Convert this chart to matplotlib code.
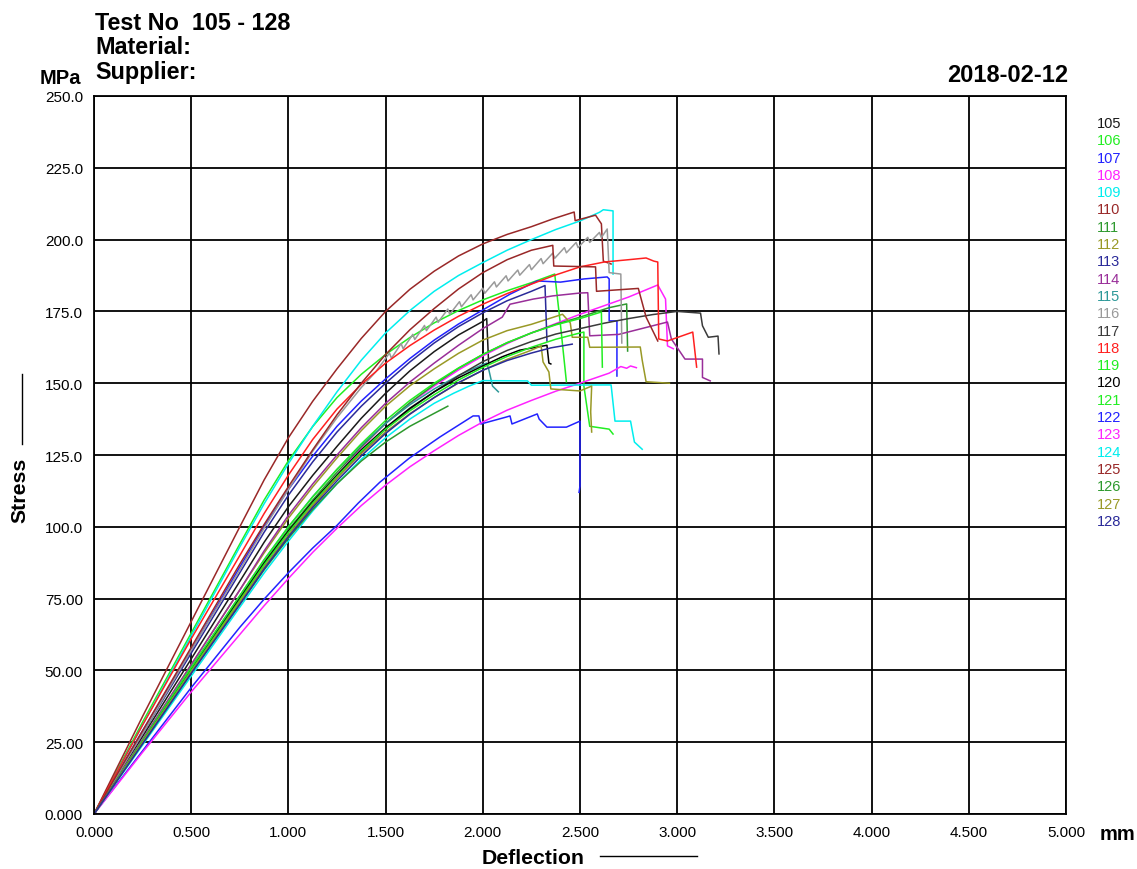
import matplotlib
matplotlib.use("Agg")
import matplotlib.pyplot as plt
from matplotlib.lines import Line2D

# ---------------- data ----------------
labels = ["105", "106", "107", "108", "109", "110", "111", "112", "113", "114", "115", "116",
          "117", "118", "119", "120", "121", "122", "123", "124", "125", "126", "127", "128"]
colors = ["#1a1a1a", "#22ee22", "#2222ff", "#ff22ff", "#00eeee", "#992828", "#2e992e", "#999926",
          "#2a2a99", "#992e99", "#2e9999", "#9a9a9a", "#3a3a3a", "#ff2020", "#22ee22", "#000000",
          "#22ee22", "#2222ff", "#ff22ff", "#00eeee", "#992828", "#2e992e", "#999926", "#2a2a99"]

x105 = [0, 0.25, 0.5, 0.75, 0.875, 1.0, 1.125, 1.25, 1.375, 1.5, 1.625, 1.75, 1.875, 2.0, 2.02, 2.03]
y105 = [0, 27, 54, 81, 94.6, 107, 117.9, 128, 137.8, 146.5, 154.3, 161, 166.8, 171.5, 172.5, 157]

x106 = [0, 0.25, 0.5, 0.75, 0.875, 1.0, 1.125, 1.25, 1.375, 1.5, 1.625, 1.75, 1.875, 2.0, 2.125,
        2.25, 2.37, 2.40, 2.43]
y106 = [0, 32, 63, 94, 109.3, 123, 134.9, 145, 153.1, 160, 165.9, 171, 175.3, 179, 182.2,
        185, 188, 170, 150.5]

x107 = [0, 0.25, 0.5, 0.75, 0.875, 1.0, 1.125, 1.25, 1.375, 1.5, 1.625, 1.75, 1.875, 2.0, 2.14,
        2.28, 2.40, 2.52, 2.64, 2.65, 2.65, 2.69, 2.69]
y107 = [0, 29, 57, 86, 100.1, 113, 124.6, 135, 143.8, 151.5, 158.6, 165, 170.6, 175.5, 181,
        185.6, 185.2, 186.3, 187, 186.3, 171.7, 171.7, 152.5]

x108 = [0, 0.25, 0.5, 0.75, 0.875, 1.0, 1.125, 1.25, 1.375, 1.5, 1.625, 1.75, 1.875, 2.0, 2.125,
        2.25, 2.5, 2.75, 2.90, 2.94, 2.95, 2.98]
y108 = [0, 25, 50, 75, 86.9, 98, 108.3, 118, 127.5, 136, 143, 149, 154.6, 159.5, 163.8,
        167.5, 174, 180, 184.2, 179.3, 163, 162]

x109 = [0, 0.25, 0.5, 0.75, 0.875, 1.0, 1.125, 1.25, 1.375, 1.5, 1.625, 1.75, 1.875, 2.0, 2.125,
        2.25, 2.375, 2.5, 2.6, 2.62, 2.67, 2.67]
y109 = [0, 31, 62, 93, 108, 122, 135, 147, 158, 167.5, 175.3, 182, 187.5, 192, 196.3,
        200, 203.5, 206.5, 209.5, 210.4, 210, 188]

x110 = [0, 0.25, 0.5, 0.75, 0.875, 1.0, 1.125, 1.25, 1.375, 1.5, 1.625, 1.75, 1.875, 2.0, 2.125,
        2.25, 2.36, 2.47, 2.475, 2.58, 2.61, 2.62, 2.66]
y110 = [0, 34, 67, 100, 116.3, 131, 143.7, 155, 165.6, 175, 182.7, 189, 194.3, 198.5, 201.8,
        204.5, 207.2, 209.6, 206.6, 208.5, 205.5, 192.5, 191.5]

x111 = [0, 0.25, 0.5, 0.75, 0.875, 1.0, 1.125, 1.25, 1.375, 1.5, 1.625, 1.75, 1.875, 2.0, 2.125,
        2.25, 2.375, 2.5, 2.65, 2.74, 2.745]
y111 = [0, 25.5, 50.5, 75.5, 87.7, 99, 109.3, 119, 127.9, 136, 143.2, 149.5, 155.2, 160, 164.1,
        167.5, 170.5, 173, 176.3, 177.6, 161.2]

x112 = [0, 0.25, 0.5, 0.75, 0.875, 1.0, 1.125, 1.25, 1.375, 1.5, 1.625, 1.75, 1.875, 2.0, 2.125,
        2.25, 2.41, 2.45, 2.46, 2.54, 2.55, 2.81, 2.82, 2.84, 2.96]
y112 = [0, 26, 52, 78, 90.9, 103, 113.9, 124, 133.5, 142, 149.1, 155, 160.4, 165, 168.3,
        170.5, 174, 171, 166, 166, 162.5, 162.6, 158, 150.5, 150]

x113 = [0, 0.25, 0.5, 0.75, 0.875, 1.0, 1.125, 1.25, 1.375, 1.5, 1.625, 1.75, 1.875, 2.0, 2.125,
        2.25, 2.32, 2.33]
y113 = [0, 28, 56, 84, 98.1, 111, 122.6, 133, 142, 150, 157.4, 164, 169.7, 174.5, 178.7,
        182, 184, 164.7]

x114 = [0, 0.25, 0.5, 0.75, 0.875, 1.0, 1.125, 1.25, 1.375, 1.5, 1.625, 1.75, 1.875, 2.0, 2.1,
        2.14, 2.26, 2.36, 2.50, 2.54, 2.55, 2.70, 2.95, 2.97, 3.04, 3.13, 3.13, 3.17]
y114 = [0, 26, 52, 78, 91.6, 104, 114.9, 125, 134.5, 143, 150.4, 157, 163.2, 169, 173,
        177.5, 179.3, 180.4, 181.4, 181.5, 166.5, 167, 171.3, 165.4, 158.4, 158.4, 152, 150.8]

x115 = [0, 0.25, 0.5, 0.75, 0.875, 1.0, 1.125, 1.25, 1.375, 1.5, 1.625, 1.75, 1.875, 2.0, 2.02,
        2.03, 2.05, 2.08]
y115 = [0, 25.5, 51, 76, 88.5, 100, 110.5, 120, 128.5, 136, 142.5, 148, 152.7, 156.5, 157,
        155, 149, 147]

x116 = [0, 0.25, 0.5, 0.75, 0.875, 1.0, 1.125, 1.25, 1.375, 1.45,
        1.52, 1.53, 1.58, 1.59, 1.64, 1.65, 1.70, 1.71, 1.76, 1.77, 1.82, 1.83, 1.88, 1.89,
        1.94, 1.95, 2.00, 2.01, 2.06, 2.07, 2.12, 2.13, 2.18, 2.19, 2.24, 2.25, 2.30, 2.31,
        2.36, 2.37, 2.42, 2.43, 2.48, 2.49, 2.54, 2.55, 2.60, 2.61, 2.64, 2.65, 2.71, 2.715]
y116 = [0, 28, 57, 85, 99.5, 113, 126.3, 138, 148.5, 154,
        160.5, 158.7, 163.8, 162.0, 167.0, 165.2, 170.1, 168.3, 173.0, 171.2, 175.8, 174.0,
        178.4, 176.6, 180.8, 179.0, 183.1, 181.3, 185.3, 183.5, 187.4, 185.6, 189.4, 187.6,
        191.3, 189.5, 193.4, 191.6, 195.3, 193.5, 197.2, 195.4, 199.0, 197.2, 200.8, 199.0,
        202.5, 200.7, 203.7, 188.5, 188, 164]

x117 = [0, 0.25, 0.5, 0.75, 0.875, 1.0, 1.125, 1.25, 1.375, 1.5, 1.625, 1.75, 1.875, 2.0, 2.125,
        2.25, 2.375, 2.5, 2.625, 2.75, 2.875, 3.0, 3.12, 3.13, 3.16, 3.21, 3.215]
y117 = [0, 25, 49.5, 74, 85.9, 97, 107.4, 117, 125.9, 134, 141, 147, 152.6, 157.5, 161.4,
        164.5, 167.1, 169, 170.9, 172.5, 173.9, 175, 174.4, 170, 166, 166.4, 160.2]

x118 = [0, 0.25, 0.5, 0.75, 0.875, 1.0, 1.125, 1.25, 1.375, 1.5, 1.625, 1.75, 1.875, 2.0, 2.125,
        2.25, 2.375, 2.5, 2.625, 2.75, 2.84, 2.88, 2.90, 2.905, 2.95, 3.08, 3.10]
y118 = [0, 31, 61, 90, 104.6, 118, 130.4, 141, 149.6, 157, 163.1, 168.5, 173.3, 177.5, 181.2,
        184.5, 187.7, 190.5, 192.2, 193, 193.6, 192.5, 192.2, 165.4, 164.7, 167.8, 155.6]

x119 = [0, 0.25, 0.5, 0.75, 0.875, 1.0, 1.125, 1.25, 1.375, 1.5, 1.625, 1.75, 1.875, 2.0, 2.125,
        2.25, 2.375, 2.5, 2.61, 2.615]
y119 = [0, 25.5, 51, 76, 88.5, 100, 110.4, 120, 128.9, 137, 144, 150, 155.3, 160, 164.1,
        167.5, 170.3, 172.5, 174.8, 155.6]

x120 = [0, 0.25, 0.5, 0.75, 0.875, 1.0, 1.125, 1.25, 1.375, 1.5, 1.625, 1.75, 1.875, 2.0, 2.1,
        2.19, 2.33, 2.34, 2.35]
y120 = [0, 25, 50, 75, 87.3, 98.5, 108.7, 118, 126.8, 134.5, 141.3, 147, 151.9, 156, 159.2,
        161.5, 163.2, 157, 156.7]

x121 = [0, 0.25, 0.5, 0.75, 0.875, 1.0, 1.125, 1.25, 1.375, 1.5, 1.625, 1.75, 1.875, 2.0, 2.125,
        2.25, 2.375, 2.5, 2.52, 2.52, 2.55, 2.65, 2.67]
y121 = [0, 25, 50, 74.5, 86.8, 98, 108.2, 117.5, 126.3, 134, 140.4, 146, 151.1, 155.5, 159.3,
        162.5, 165.3, 167.5, 167.8, 149, 135, 134, 132.3]

x122 = [0, 0.25, 0.5, 0.75, 0.875, 1.0, 1.125, 1.25, 1.36, 1.47, 1.62, 1.78, 1.95, 1.98, 1.99,
        2.12, 2.14, 2.15, 2.28, 2.29, 2.33, 2.43, 2.50, 2.50, 2.495]
y122 = [0, 22, 44, 65, 74.8, 84, 92.6, 100.5, 108.3, 115.5, 123.8, 131.3, 138.6, 138.6, 135.8,
        138.2, 138.6, 135.8, 139.3, 137.5, 134.7, 134.7, 136.8, 114.2, 112]

x123 = [0, 0.25, 0.5, 0.75, 0.875, 1.0, 1.125, 1.25, 1.375, 1.5, 1.625, 1.75, 1.875, 2.0, 2.125,
        2.25, 2.375, 2.5, 2.65, 2.71, 2.74, 2.76, 2.79]
y123 = [0, 21.5, 42.5, 62.5, 72.5, 82, 91.1, 99.5, 107.4, 114.5, 120.9, 126.5, 131.8, 136.5, 140.6,
        144, 147.2, 150, 153.5, 155.8, 155.2, 156, 155.4]

x124 = [0, 0.25, 0.5, 0.75, 0.875, 1.0, 1.125, 1.25, 1.375, 1.5, 1.625, 1.75, 1.85, 1.93, 2.0,
        2.23, 2.25, 2.66, 2.68, 2.76, 2.78, 2.82]
y124 = [0, 24, 48, 72, 83.9, 95, 105.5, 115, 123.5, 131, 137.5, 143, 146.5, 149, 150.9,
        150.8, 149.3, 149.4, 136.8, 136.8, 129.5, 127]

x125 = [0, 0.25, 0.5, 0.75, 0.875, 1.0, 1.125, 1.25, 1.375, 1.5, 1.625, 1.75, 1.875, 2.0, 2.125,
        2.25, 2.36, 2.365, 2.58, 2.585, 2.80, 2.84, 2.90]
y125 = [0, 29, 58, 87, 100.8, 114, 126.8, 139, 150, 160, 168.6, 176, 182.8, 188.5, 193,
        196.3, 198, 190.8, 190.5, 182, 183, 173, 164.7]

x126 = [0, 0.25, 0.5, 0.75, 0.875, 1.0, 1.125, 1.25, 1.375, 1.5, 1.625, 1.75, 1.82]
y126 = [0, 24.5, 49, 73, 85, 96, 106, 115, 122.9, 129.5, 135, 139.5, 142]

x127 = [0, 0.25, 0.5, 0.75, 0.875, 1.0, 1.125, 1.25, 1.375, 1.5, 1.625, 1.75, 1.875, 2.0, 2.125,
        2.25, 2.30, 2.31, 2.34, 2.35, 2.50, 2.56, 2.555, 2.56]
y127 = [0, 25, 49.5, 74, 85.9, 97, 107.5, 117, 125.5, 133, 139.4, 145, 150.1, 154.5, 158.3,
        161.5, 163, 157.4, 153.9, 148, 147.3, 149, 140, 133]

x128 = [0, 0.25, 0.5, 0.75, 0.875, 1.0, 1.125, 1.25, 1.375, 1.5, 1.625, 1.75, 1.875, 2.0, 2.125,
        2.25, 2.35, 2.46]
y128 = [0, 24.5, 49, 73, 85.3, 96.5, 106.7, 116, 124.7, 132.5, 139.2, 145, 150.2, 154.5, 157.9,
        160.5, 162.3, 163.6]

xs = [x105, x106, x107, x108, x109, x110, x111, x112, x113, x114, x115, x116,
      x117, x118, x119, x120, x121, x122, x123, x124, x125, x126, x127, x128]
ys = [y105, y106, y107, y108, y109, y110, y111, y112, y113, y114, y115, y116,
      y117, y118, y119, y120, y121, y122, y123, y124, y125, y126, y127, y128]

xticks = [0, 0.5, 1.0, 1.5, 2.0, 2.5, 3.0, 3.5, 4.0, 4.5, 5.0]
xticklabels = ["0.000", "0.500", "1.000", "1.500", "2.000", "2.500", "3.000", "3.500",
               "4.000", "4.500", "5.000"]
yticks = [0, 25, 50, 75, 100, 125, 150, 175, 200, 225, 250]
yticklabels = ["0.000", "25.00", "50.00", "75.00", "100.0", "125.0", "150.0", "175.0",
               "200.0", "225.0", "250.0"]

# ---------------- figure ----------------
W, H = 1137, 870
plt.rcParams['font.family'] = ['Liberation Sans', 'DejaVu Sans']
fig = plt.figure(figsize=(W / 100, H / 100), dpi=100)
fig.patch.set_facecolor("white")

L, R, T, B = 94, 1066, 97, 815
ax = fig.add_axes([L / W, 1 - B / H, (R - L) / W, (B - T) / H])
ax.set_xlim(0, 5)
ax.set_ylim(0, 250)
ax.set_xticks(xticks)
ax.set_xticklabels(xticklabels)
ax.set_yticks(yticks)
ax.set_yticklabels(yticklabels)
ax.tick_params(length=0, labelsize=11, pad=8)
ax.grid(True, color="black", linewidth=1.3)
ax.set_axisbelow(True)
for s in ax.spines.values():
    s.set_linewidth(1.3)
    s.set_color("black")

for xv, yv, c in zip(xs, ys, colors):
    ax.plot(xv, yv, color=c, linewidth=1.1, solid_joinstyle="round")


def ft(px, py, s, **kw):
    fig.text(px / W, 1 - py / H, s, **kw)


ft(95, 23, "Test No  105 - 128", fontsize=16.8, fontweight="bold", ha="left", va="center")
ft(95, 47, "Material:", fontsize=16.8, fontweight="bold", ha="left", va="center")
ft(95, 73, "Supplier:", fontsize=16.8, fontweight="bold", ha="left", va="center")
ft(40, 78, "MPa", fontsize=14.5, fontweight="bold", ha="left", va="center")
ft(1068, 75, "2018-02-12", fontsize=17, fontweight="bold", ha="right", va="center")
ft(1100, 835, "mm", fontsize=14.5, fontweight="bold", ha="left", va="center")
ft(533, 859, "Deflection", fontsize=15.3, fontweight="bold", ha="center", va="center")
ft(20, 490, "Stress", fontsize=15.3, fontweight="bold", ha="center", va="center", rotation=90)

fig.add_artist(Line2D([600 / W, 697 / W], [1 - 857 / H, 1 - 857 / H], color="black",
                      linewidth=1.0, transform=fig.transFigure))
fig.add_artist(Line2D([22 / W, 22 / W], [1 - 375 / H, 1 - 445 / H], color="black",
                      linewidth=1.0, transform=fig.transFigure))

for i, (lab, c) in enumerate(zip(labels, colors)):
    ft(1097, 124 + 17.3 * i, lab, fontsize=10.5, color=c, ha="left", va="center")

fig.savefig("out.png", dpi=100, facecolor="white")
